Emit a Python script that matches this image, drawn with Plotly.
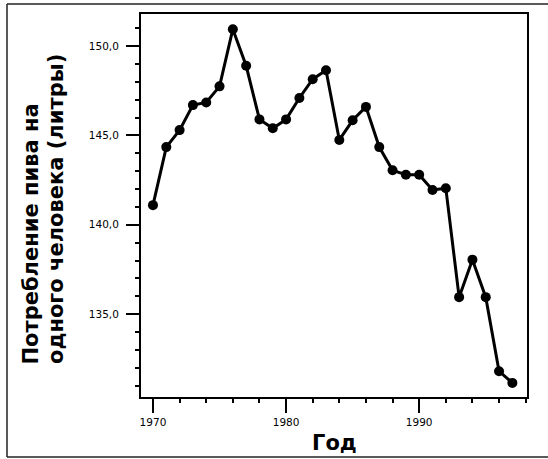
import plotly.graph_objects as go

years = list(range(1970, 1998))
consumption = [141.1, 144.35, 145.3, 146.7, 146.85, 147.75, 150.95, 148.9,
               145.9, 145.4, 145.9, 147.1, 148.15, 148.65, 144.75, 145.85,
               146.6, 144.35, 143.05, 142.8, 142.8, 141.95, 142.05, 135.95,
               138.05, 135.95, 131.8, 131.15]
x_ticks = [1970, 1980, 1990]
x_ticktext = ["1970", "1980", "1990"]
y_ticks = [135, 140, 145, 150]
y_ticktext = ["135,0", "140,0", "145,0", "150,0"]

W, H = 548, 459
L, R, T, B = 141, 527, 14, 397

def px_x(p):
    return (p - L) / (R - L)

def px_y(p):
    return (B - p) / (B - T)

fig = go.Figure()
fig.add_trace(go.Scatter(
    x=years, y=consumption, mode="lines+markers",
    line=dict(color="black", width=3),
    marker=dict(color="black", size=10),
    showlegend=False,
))

axis_font = dict(family="DejaVu Sans, sans-serif", size=10.5, color="black")

fig.update_xaxes(
    range=[1969.1, 1998.1], tickvals=x_ticks, ticktext=x_ticktext,
    ticks="outside", ticklen=14, tickwidth=2, tickcolor="black",
    showline=True, linewidth=2, linecolor="black", mirror=True,
    showgrid=False, zeroline=False, tickfont=axis_font,
    minor=dict(dtick=2, tick0=1970, ticks="outside", ticklen=4, tickwidth=2, tickcolor="black", showgrid=False),
)
fig.update_yaxes(
    range=[130.36, 151.8], tickvals=y_ticks, ticktext=y_ticktext,
    ticks="outside", ticklen=13, tickwidth=2, tickcolor="black",
    showline=True, linewidth=2, linecolor="black", mirror=True,
    showgrid=False, zeroline=False, tickfont=axis_font, ticklabelstandoff=5,
    minor=dict(dtick=1, tick0=130, ticks="outside", ticklen=4, tickwidth=2, tickcolor="black", showgrid=False),
)

title_font = dict(family="DejaVu Sans, sans-serif", size=21, color="black")
annotations = [
    dict(text="<b>Год</b>", x=0.5, y=px_y(443), xref="paper", yref="paper",
         xanchor="center", yanchor="middle", showarrow=False, font=title_font),
    dict(text="<b>Потребление пива на</b>", x=px_x(30), y=px_y(366), xref="paper", yref="paper",
         xanchor="center", yanchor="bottom", textangle=-90, showarrow=False, font=title_font),
    dict(text="<b>одного человека (литры)</b>", x=px_x(56), y=px_y(366), xref="paper", yref="paper",
         xanchor="center", yanchor="bottom", textangle=-90, showarrow=False, font=title_font),
]

shapes = [
    dict(type="line", xref="paper", yref="paper", x0=px_x(7), x1=px_x(560), y0=px_y(4), y1=px_y(4),
         line=dict(color="#222", width=1.5)),
    dict(type="line", xref="paper", yref="paper", x0=px_x(7), x1=px_x(7), y0=px_y(4), y1=px_y(457),
         line=dict(color="#222", width=1.5)),
    dict(type="line", xref="paper", yref="paper", x0=px_x(7), x1=px_x(560), y0=px_y(457), y1=px_y(457),
         line=dict(color="#222", width=1.5)),
]

fig.update_layout(
    width=W, height=H,
    margin=dict(l=L, r=W - R, t=T, b=H - B, pad=0),
    plot_bgcolor="white", paper_bgcolor="white",
    annotations=annotations, shapes=shapes,
)

fig.write_html("out.html", config={"displayModeBar": False},
               post_script="document.body.style.margin='0';document.body.style.overflow='hidden';")
